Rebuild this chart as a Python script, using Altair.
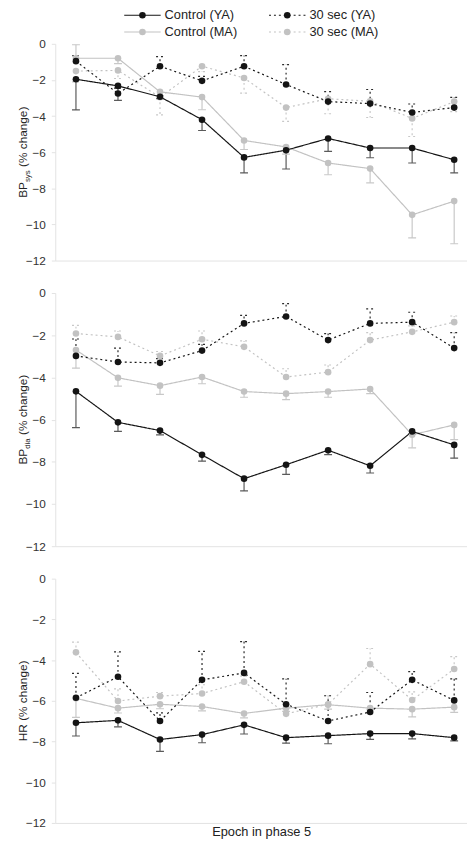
import altair as alt
import pandas as pd

FONT = "Liberation Sans"

epochs = list(range(1, 11))
series_names = ["Control (YA)", "30 sec (YA)", "Control (MA)", "30 sec (MA)"]
draw_order = ["Control (MA)", "30 sec (MA)", "Control (YA)", "30 sec (YA)"]

# ---- Panel 1: BPsys (% change) ----  values and signed error-bar extents
sys_cya = [-1.96, -2.33, -2.93, -4.20, -6.29, -5.89, -5.24, -5.77, -5.77, -6.42]
sys_cya_e = [-1.70, -0.80, -0.10, -0.60, -0.86, -1.04, -0.72, -0.54, -0.83, -0.73]
sys_cma = [-0.80, -0.80, -2.66, -2.95, -5.35, -5.71, -6.60, -6.91, -9.47, -8.71]
sys_cma_e = [0.75, -0.30, -0.20, -0.70, -0.50, -0.40, -0.65, -0.79, -1.28, -2.36]
sys_sya = [-0.96, -2.75, -1.24, -2.05, -1.24, -2.25, -3.20, -3.31, -3.80, -3.53]
sys_sya_e = [0.30, 0.30, 0.53, 0.25, 0.59, 1.10, 0.55, 0.78, 0.47, 0.57]
sys_sma = [-1.51, -1.47, -2.96, -1.24, -1.89, -3.53, -3.04, -3.18, -4.13, -3.20]
sys_sma_e = [-0.60, -0.45, -0.97, -0.30, -0.84, -0.76, -0.83, -0.90, -1.00, -0.55]

# ---- Panel 2: BPdia (% change) ----
dia_cya = [-4.66, -6.13, -6.52, -7.67, -8.80, -8.14, -7.45, -8.19, -6.56, -7.20]
dia_cya_e = [-1.72, -0.43, -0.20, -0.30, -0.58, -0.46, -0.21, -0.34, -0.12, -0.63]
dia_cma = [-2.70, -4.02, -4.39, -3.98, -4.67, -4.77, -4.67, -4.55, -6.72, -6.25]
dia_cma_e = [-0.86, -0.39, -0.41, -0.32, -0.27, -0.28, -0.27, -0.22, -0.62, -0.70]
dia_sya = [-2.98, -3.27, -3.31, -2.73, -1.44, -1.11, -2.23, -1.44, -1.38, -2.61]
dia_sya_e = [0.80, 0.66, 0.20, 0.30, 0.38, 0.61, 0.31, 0.69, 0.47, 0.73]
dia_sma = [-1.92, -2.08, -2.98, -2.19, -2.55, -3.98, -3.75, -2.23, -1.84, -1.38]
dia_sma_e = [0.39, 0.28, 0.21, 0.39, 0.28, 0.39, 0.34, 0.35, 0.28, 0.29]

# ---- Panel 3: HR (% change) ----
hr_cya = [-7.08, -6.96, -7.90, -7.66, -7.18, -7.81, -7.71, -7.61, -7.61, -7.81]
hr_cya_e = [-0.65, -0.32, -0.58, -0.40, -0.45, -0.27, -0.40, -0.28, -0.26, -0.16]
hr_cma = [-5.88, -6.36, -6.17, -6.28, -6.62, -6.36, -6.19, -6.36, -6.41, -6.31]
hr_cma_e = [-0.93, -0.24, -0.22, -0.21, -0.22, -0.16, -0.22, -0.08, -0.38, -0.26]
hr_sya = [-5.85, -4.82, -6.99, -4.97, -4.63, -6.17, -6.99, -6.55, -4.97, -5.98]
hr_sya_e = [1.20, 1.22, 0.40, 1.40, 1.54, 1.25, 1.24, 0.96, 0.40, 1.06]
hr_sma = [-3.62, -6.01, -5.77, -5.64, -5.06, -6.64, -6.17, -4.20, -5.96, -4.44]
hr_sma_e = [0.50, 0.60, 0.18, 0.43, 0.27, 0.27, 0.42, 0.77, 0.40, 0.61]

y_ticks = [0, -2, -4, -6, -8, -10, -12]
title_main = ["BP", "BP", "HR"]
title_sub = ["sys", "dia", ""]
title_rest = "(% change)"
x_title = "Epoch in phase 5"

panel_data = [
    {"Control (YA)": (sys_cya, sys_cya_e), "Control (MA)": (sys_cma, sys_cma_e),
     "30 sec (YA)": (sys_sya, sys_sya_e), "30 sec (MA)": (sys_sma, sys_sma_e)},
    {"Control (YA)": (dia_cya, dia_cya_e), "Control (MA)": (dia_cma, dia_cma_e),
     "30 sec (YA)": (dia_sya, dia_sya_e), "30 sec (MA)": (dia_sma, dia_sma_e)},
    {"Control (YA)": (hr_cya, hr_cya_e), "Control (MA)": (hr_cma, hr_cma_e),
     "30 sec (YA)": (hr_sya, hr_sya_e), "30 sec (MA)": (hr_sma, hr_sma_e)},
]
panel_heights = [220, 257, 248]
PLOT_W = 418

line_scale = alt.Scale(domain=series_names, range=["#141414", "#141414", "#c2c2c2", "#c2c2c2"])
fill_scale = alt.Scale(domain=series_names, range=["#141414", "#141414", "#c2c2c2", "#c2c2c2"])
err_scale = alt.Scale(domain=series_names, range=["#5a5a5a", "#2a2a2a", "#c8c8c8", "#c8c8c8"])
dash_scale = alt.Scale(domain=series_names, range=[[1, 0], [2, 3], [1, 0], [2, 3]])
x_scale = alt.Scale(domain=[0.508, 10.305], nice=False, zero=False)
y_scale = alt.Scale(domain=[-12, 0], nice=False)


def text_width(s, size):
    w = {"B": .667, "P": .667, "H": .722, "R": .722, "s": .5, "y": .5, "d": .556,
         "i": .222, "a": .556, " ": .278, "(": .333, ")": .333, "%": .889,
         "c": .5, "h": .556, "n": .556, "g": .556, "e": .556}
    return sum(w.get(ch, .556) for ch in s) * size


def legend_layers():
    """Two-column key drawn above the first panel (line + dot + label)."""
    out = []
    for i, name in enumerate(series_names):
        col, row = i % 2, i // 2
        x0 = 70 + col * 147
        yc = -29 + row * 17
        d = alt.Chart(pd.DataFrame({"series": [name]}))
        out.append(d.mark_rule(strokeWidth=1.2).encode(
            x=alt.value(x0), x2=alt.value(x0 + 37), y=alt.value(yc),
            stroke=alt.Stroke("series:N", scale=line_scale, legend=None),
            strokeDash=alt.StrokeDash("series:N", scale=dash_scale, legend=None)))
        out.append(d.mark_circle(size=45, opacity=1).encode(
            x=alt.value(x0 + 18.5), y=alt.value(yc),
            fill=alt.Fill("series:N", scale=fill_scale, legend=None)))
        out.append(d.mark_text(align="left", baseline="middle", fontSize=13, font=FONT,
                               color="#222222").encode(
            x=alt.value(x0 + 41), y=alt.value(yc), text="series:N"))
    return out


def make_panel(idx):
    rows = []
    for s in draw_order:
        vals, errs = panel_data[idx][s]
        for e, v, d in zip(epochs, vals, errs):
            rows.append({"series": s, "err_series": s, "epoch": e, "value": v,
                         "err_end": round(v + d, 3)})
    df = pd.DataFrame(rows)
    last = idx == 2
    H = panel_heights[idx]

    x_axis = alt.Axis(title=x_title if last else None, labels=False, ticks=False,
                      grid=False, domainColor="#e3e3e3", titleFont=FONT,
                      titleFontSize=13, titleFontWeight="normal", titleColor="#222222",
                      titlePadding=3)
    y_axis = alt.Axis(values=y_ticks, title=None, grid=False, domainColor="#e3e3e3",
                      tickColor="#e3e3e3", tickSize=4, labelFontSize=12, labelFont=FONT,
                      labelColor="#333333", labelPadding=6)
    X = alt.X("epoch:Q", scale=x_scale, axis=x_axis)
    Y = alt.Y("value:Q", scale=y_scale, axis=y_axis)

    base = alt.Chart(df)
    err = base.mark_rule(strokeWidth=1.2).encode(
        x=X, y=Y, y2="err_end:Q",
        color=alt.Color("err_series:N", scale=err_scale, legend=None),
        strokeDash=alt.StrokeDash("series:N", scale=dash_scale, legend=None),
    )
    cap = base.mark_rule(strokeWidth=1.2, xOffset=-4, x2Offset=4).encode(
        x=X, x2="epoch:Q", y=alt.Y("err_end:Q", scale=y_scale, axis=y_axis),
        color=alt.Color("err_series:N", scale=err_scale, legend=None),
        strokeDash=alt.StrokeDash("series:N", scale=dash_scale, legend=None),
    )
    line = base.mark_line(strokeWidth=1.2).encode(
        x=X, y=Y,
        stroke=alt.Stroke("series:N", scale=line_scale, legend=None),
        strokeDash=alt.StrokeDash("series:N", scale=dash_scale, legend=None),
        detail="series:N",
    )
    pts = base.mark_circle(size=45, opacity=1).encode(
        x=X, y=Y,
        fill=alt.Fill("series:N", scale=fill_scale, legend=None),
    )

    # y title pieces (rotated; subscript smaller and shifted toward the axis)
    w_main = text_width(title_main[idx], 12)
    w_sub = text_width(title_sub[idx], 8) if title_sub[idx] else 0
    w_gap = text_width(" ", 12)
    w_rest = text_width(title_rest, 12)
    y0 = H / 2 + (w_main + w_sub + w_gap + w_rest) / 2
    xb = -29
    pieces = [(title_main[idx], 12, xb, y0),
              (title_sub[idx], 8, xb + 3, y0 - w_main),
              (title_rest, 12, xb, y0 - w_main - w_sub - w_gap)]
    tlayers = []
    for txt, fs, xx, yy in pieces:
        if not txt:
            continue
        tlayers.append(
            alt.Chart(pd.DataFrame({"t": [txt]})).mark_text(
                angle=270, align="left", baseline="alphabetic", fontSize=fs,
                font=FONT, color="#222222"
            ).encode(text="t:N", x=alt.value(xx), y=alt.value(yy))
        )
    extra = legend_layers() if idx == 0 else []
    return alt.layer(err, cap, line, pts, *tlayers, *extra).properties(width=PLOT_W, height=H)


chart = alt.vconcat(*[make_panel(i) for i in range(3)], spacing=33, bounds="flush").properties(
    padding={"left": 8, "top": -5, "right": 0, "bottom": 0}
).configure_view(stroke=None)

chart.save("out.html", embed_options={"renderer": "svg", "actions": False})
